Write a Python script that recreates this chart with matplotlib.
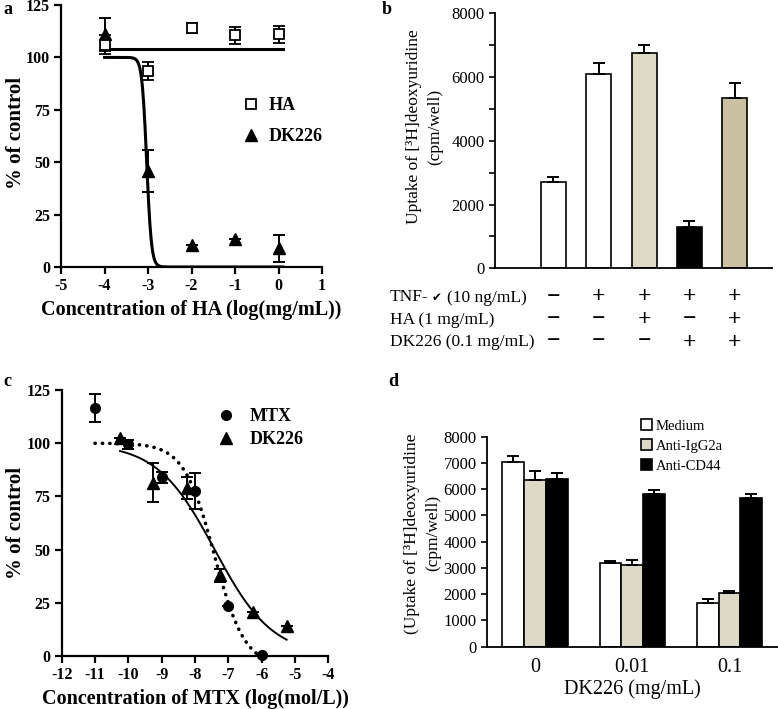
"""
Four panels: HA / DK226 dose-response curves and [3H]deoxyuridine uptake bars.
"""

import matplotlib.pyplot as plt
import numpy as np
from matplotlib.lines import Line2D
from matplotlib.patches import Patch
from matplotlib.transforms import blended_transform_factory

plt.rcParams["font.family"] = ["Liberation Serif", "DejaVu Sans"]
plt.rcParams["axes.unicode_minus"] = False

# panel a: % of control vs log HA concentration
a_logconc = [-4, -3, -2, -1, 0]
a_ha = [106, 93.5, 114, 110.5, 111]
a_ha_err = [4.5, 4.4, 2.2, 4.2, 4]
a_dk226 = [111, 46, 10.5, 13.5, 9]
a_dk226_err = [8, 10, 0, 0, 6.5]
a_ha_fit_level = 104
a_dk226_fit = [100, 0, -3.03, 8.0]  # top, bottom, logIC50, hill slope

# panel b: uptake under treatment combinations
b_values = [2700, 6100, 6750, 1300, 5330]
b_err = [180, 330, 270, 180, 470]
b_colors = ["white", "white", "#dedbc7", "black", "#c9c19f"]
b_rows = ["TNF-", "HA (1 mg/mL)", "DK226 (0.1 mg/mL)"]
b_signs = [
    ["\u2212", "+", "+", "+", "+"],
    ["\u2212", "\u2212", "+", "\u2212", "+"],
    ["\u2212", "\u2212", "\u2212", "+", "+"],
]

# panel c: % of control vs log MTX concentration
c_mtx_logconc = [-11, -10, -9, -8, -7, -6]
c_mtx = [116.5, 99.5, 84, 77.5, 23.5, 0.5]
c_mtx_err = [6.5, 2, 2.5, 8.5, 0, 0]
c_dk_logconc = [-10.25, -9.25, -8.25, -7.25, -6.25, -5.25]
c_dk226 = [102.5, 81.5, 79, 38, 20.5, 14]
c_dk226_err = [0, 9, 5, 3, 0, 0]
c_mtx_fit = [100, -5, -7.42, 0.95]
c_dk226_fit = [100, 0, -7.41, 0.5]

# panel d: uptake with antibodies
d_groups = ["0", "0.01", "0.1"]
d_series = ["Medium", "Anti-IgG2a", "Anti-CD44"]
d_medium = [7050, 3200, 1650]
d_medium_err = [200, 80, 150]
d_igg = [6350, 3100, 2030]
d_igg_err = [350, 220, 90]
d_cd44 = [6400, 5800, 5650]
d_cd44_err = [200, 180, 180]
d_colors = ["white", "#dcd9c6", "black"]

W, H = 778, 709


def hill(x, top, bottom, logc, slope):
    return bottom + (top - bottom) / (1 + 10 ** ((x - logc) * slope))


def px_axes(left, top, right, bottom):
    return [left / W, 1 - bottom / H, (right - left) / W, (bottom - top) / H]


def curve_axes_style(ax):
    for side in ("top", "right"):
        ax.spines[side].set_visible(False)
    for side in ("left", "bottom"):
        ax.spines[side].set_linewidth(1.6)
    ax.tick_params(width=1.6, length=5, labelsize=11.5, pad=3)
    for lab in ax.get_xticklabels() + ax.get_yticklabels():
        lab.set_fontweight("bold")


def bar_axes_style(ax):
    for side in ("top", "right"):
        ax.spines[side].set_visible(False)
    for side in ("left", "bottom"):
        ax.spines[side].set_linewidth(1.3)
    ax.tick_params(axis="y", which="both", width=1.2, length=4, labelsize=12)


fig = plt.figure(figsize=(W / 100, H / 100), dpi=100)

err_kw = dict(ecolor="black", elinewidth=1.4, capsize=4, capthick=1.4)

# ---- panel a
ax = fig.add_axes(px_axes(61, 5, 322, 267))
xs = np.linspace(-4, 0.1, 300)
ax.plot([-4, 0.1], [a_ha_fit_level, a_ha_fit_level], color="black", lw=2.2)
ax.plot(xs, hill(xs, *a_dk226_fit), color="black", lw=2.2)
ax.errorbar(a_logconc, a_dk226, yerr=a_dk226_err, fmt="^", color="black",
            ms=8, clip_on=False, **err_kw)
ax.errorbar(a_logconc, a_ha, yerr=a_ha_err, fmt="s", mfc="white", mec="black",
            mew=1.3, ms=7, clip_on=False, **err_kw)
ax.set_xlim(-5, 1)
ax.set_ylim(0, 125)
ax.set_xticks(range(-5, 2))
ax.set_yticks(range(0, 126, 25))
curve_axes_style(ax)
ax.set_xlabel("Concentration of HA (log(mg/mL))", fontsize=14.5,
              fontweight="bold", labelpad=4)
ax.set_ylabel("% of control", fontsize=15, fontweight="bold")
ax.yaxis.set_label_coords(-0.134, 0.51)
handles = [
    Line2D([], [], ls="none", marker="s", mfc="white", mec="black", mew=1.3, ms=7),
    Line2D([], [], ls="none", marker="^", color="black", ms=8),
]
ax.legend(handles, ["HA", "DK226"], loc="upper left", frameon=False,
          bbox_to_anchor=(233 / W, 1 - 88 / H), bbox_transform=fig.transFigure,
          borderpad=0, handlelength=1, handletextpad=0.5, labelspacing=0.8,
          prop=dict(weight="bold", size=13))

# ---- panel b
ax = fig.add_axes(px_axes(495, 13.3, 772, 268.3))
xb = np.arange(len(b_values))
ax.bar(xb, b_values, width=0.55, color=b_colors, edgecolor="black", linewidth=1.2,
       yerr=[np.zeros(len(b_err)), b_err], error_kw=err_kw)
ax.set_xlim(-1.29, 4.82)
ax.set_ylim(0, 8000)
ax.set_xticks([])
ax.set_yticks(range(0, 8001, 2000))
ax.set_yticks(range(1000, 8000, 2000), minor=True)
bar_axes_style(ax)
ax.set_ylabel("Uptake of [\u00b3H]deoxyuridine\n(cpm/well)", fontsize=12.5,
              linespacing=1.4)
ax.yaxis.set_label_coords(-0.188, 0.554)
tr = blended_transform_factory(ax.transData, fig.transFigure)
for r, (label, signs) in enumerate(zip(b_rows, b_signs)):
    yy = 1 - (297 + 22.5 * r) / H
    t = fig.text(390 / W, yy, label, ha="left", va="center", fontsize=12.5)
    if r == 0:
        # the alpha sign came out as a small check mark in the original
        chk = ax.annotate("\u2714", xy=(1, 0.45), xycoords=t, xytext=(2, 0),
                          textcoords="offset points", ha="left", va="center",
                          fontsize=8.5, family="DejaVu Sans")
        ax.annotate("(10 ng/mL)", xy=(1, 0.5), xycoords=chk, xytext=(4, 0),
                    textcoords="offset points", ha="left", va="center",
                    fontsize=12.5)
    for i, s in enumerate(signs):
        ax.text(xb[i], yy, s, transform=tr, ha="center", va="center",
                fontsize=17, fontweight="bold")

# ---- panel c
ax = fig.add_axes(px_axes(61.7, 390, 328.3, 656))
xm = np.linspace(-11, -6, 300)
xd = np.linspace(-10.25, -5.25, 300)
ax.plot(xm, hill(xm, *c_mtx_fit), color="black", lw=2.6, ls=(0, (0.05, 2.0)),
        dash_capstyle="round")
ax.plot(xd, hill(xd, *c_dk226_fit), color="black", lw=1.4)
ax.errorbar(c_mtx_logconc, c_mtx, yerr=c_mtx_err, fmt="o", color="black",
            ms=7, clip_on=False, **err_kw)
ax.errorbar(c_dk_logconc, c_dk226, yerr=c_dk226_err, fmt="^", color="black",
            ms=8, clip_on=False, **err_kw)
ax.set_xlim(-12, -4)
ax.set_ylim(0, 125)
ax.set_xticks(range(-12, -3))
ax.set_yticks(range(0, 126, 25))
curve_axes_style(ax)
ax.set_xlabel("Concentration of MTX (log(mol/L))", fontsize=14.5,
              fontweight="bold", labelpad=4)
ax.set_ylabel("% of control", fontsize=15, fontweight="bold")
ax.yaxis.set_label_coords(-0.134, 0.5)
handles = [
    Line2D([], [], ls="none", marker="o", color="black", ms=7),
    Line2D([], [], ls="none", marker="^", color="black", ms=8),
]
ax.legend(handles, ["MTX", "DK226"], loc="upper left", frameon=False,
          bbox_to_anchor=(208 / W, 1 - 399 / H), bbox_transform=fig.transFigure,
          borderpad=0, handlelength=1, handletextpad=0.8, labelspacing=0.35,
          prop=dict(weight="bold", size=13))

# ---- panel d
ax = fig.add_axes(px_axes(487, 436.7, 778, 646.7))
xg = np.arange(len(d_groups))
w = 0.224
series = [(d_medium, d_medium_err), (d_igg, d_igg_err), (d_cd44, d_cd44_err)]
for k, (vals, errs) in enumerate(series):
    ax.bar(xg + (k - 1) * w, vals, w, color=d_colors[k], edgecolor="black",
           linewidth=1.2, yerr=[np.zeros(len(errs)), errs], error_kw=err_kw,
           label=d_series[k])
ax.set_xlim(-0.495, 2.5)
ax.set_ylim(0, 8000)
ax.set_yticks(range(0, 8001, 1000))
ax.set_xticks(xg, d_groups)
bar_axes_style(ax)
ax.tick_params(axis="x", length=0, labelsize=14.5, pad=8)
ax.set_xlabel("DK226 (mg/mL)", fontsize=14.5, labelpad=2)
ax.set_ylabel("(Uptake of [\u00b3H]deoxyuridine\n(cpm/well)", fontsize=12.5,
              linespacing=1.4)
ax.yaxis.set_label_coords(-0.158, 0.54)
handles = [Patch(facecolor=c, edgecolor="black", lw=1.2) for c in d_colors]
ax.legend(handles, d_series, loc="upper left", frameon=False,
          bbox_to_anchor=(634 / W, 1 - 412 / H), bbox_transform=fig.transFigure,
          borderpad=0, handlelength=0.75, handleheight=0.75, handletextpad=0.25,
          labelspacing=0.45, fontsize=10.5)

# panel letters
for letter, (px, py) in zip("abcd", [(3, 9), (382, 9), (3, 381), (388, 381)]):
    fig.text(px / W, 1 - py / H, letter, fontsize=13, fontweight="bold",
             ha="left", va="center")

fig.savefig("out.png", dpi=100)
plt.close(fig)
